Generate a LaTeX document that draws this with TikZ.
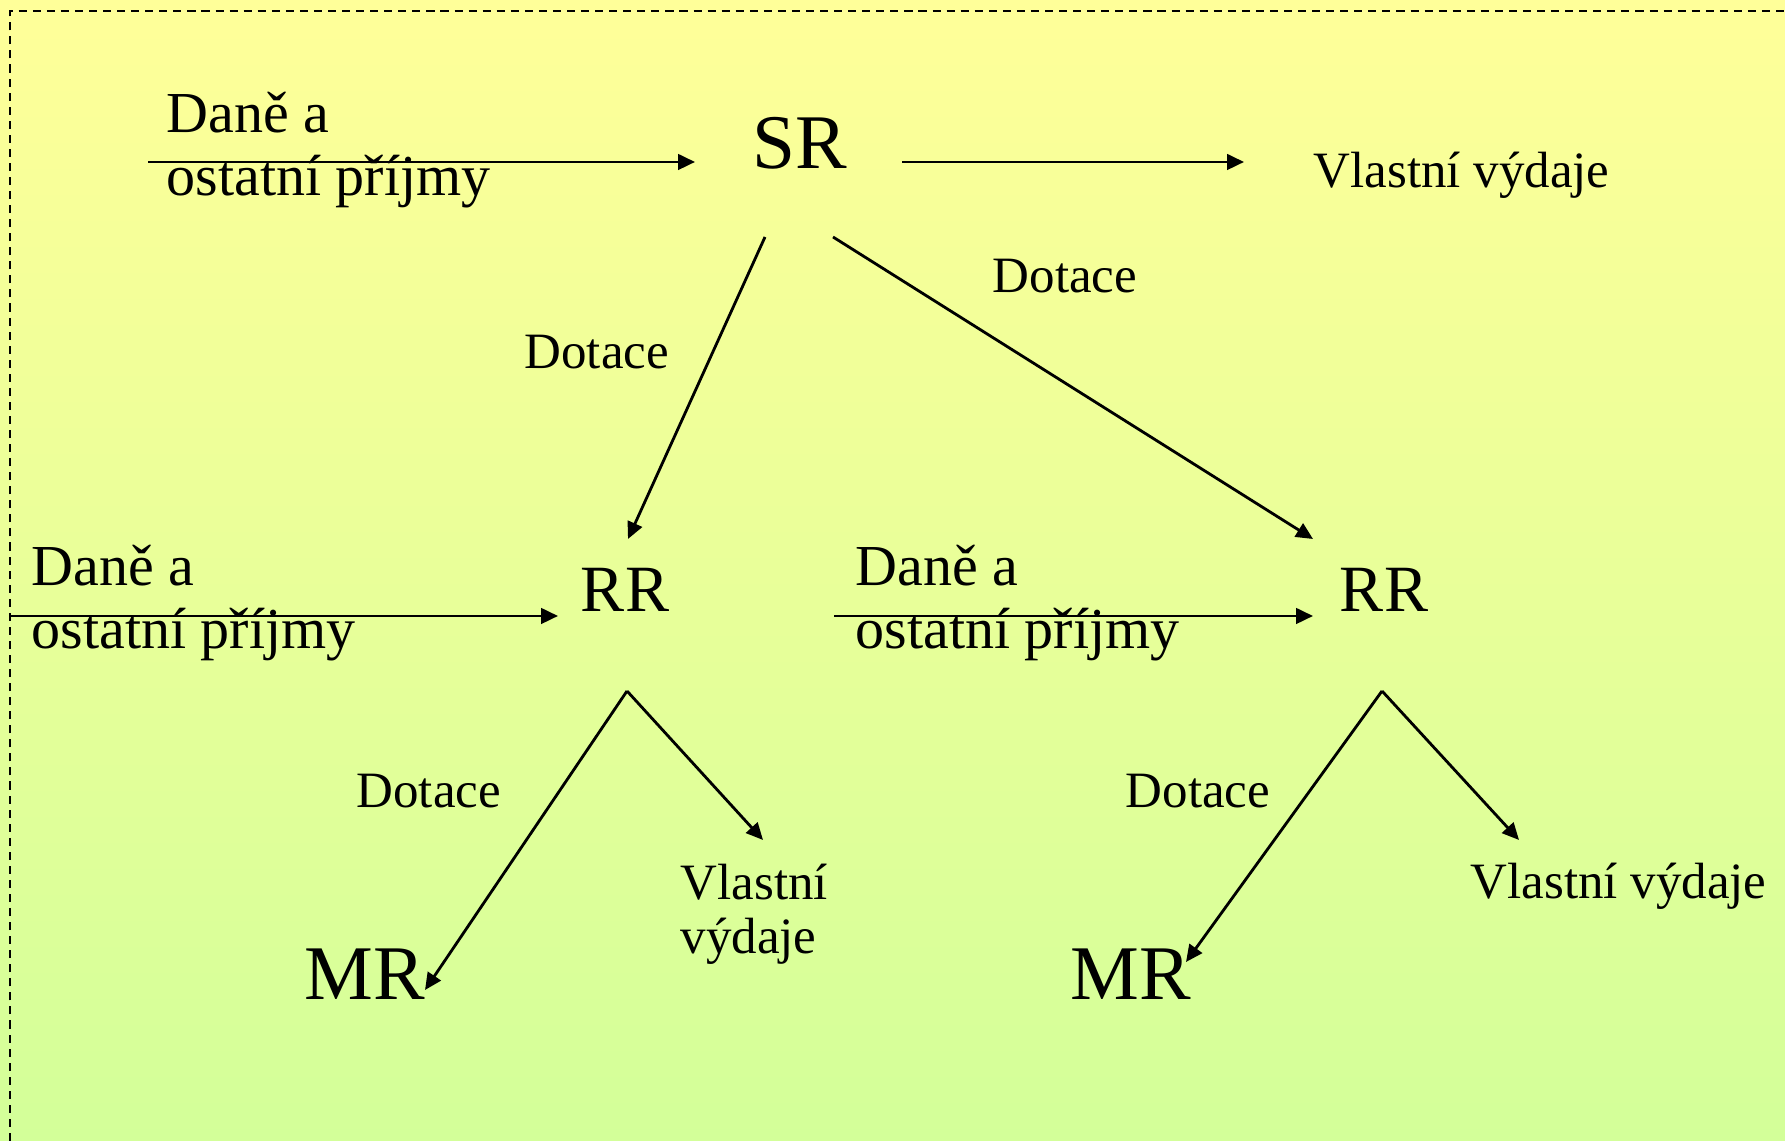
\documentclass[tikz,border=0pt]{standalone}
\usepackage{fontspec}
\setmainfont{Liberation Serif}
\usetikzlibrary{arrows.meta}
\definecolor{bgtop}{RGB}{255,255,153}
\definecolor{bgbottom}{RGB}{211,255,153}

\begin{document}
\begin{tikzpicture}[
	arr/.style={line width=0.8pt, -{Triangle[length=4.8pt,width=4.4pt]}},
	lbl/.style={anchor=base west, inner sep=0pt, align=left, font=\fontsize{14.5}{15.6}\selectfont},
	inc/.style={anchor=base west, inner sep=0pt, align=left, font=\fontsize{16.5}{18.1}\selectfont},
	big/.style={anchor=base, inner sep=0pt, font=\fontsize{22}{26}\selectfont},
	mid/.style={anchor=base, inner sep=0pt, font=\fontsize{18.8}{22}\selectfont}]
	%%%%% START %%%%%
	
	\shade[top color=bgtop, bottom color=bgbottom] (0, 0) rectangle (17.85, 11.41);
	\useasboundingbox (0, 0) rectangle (17.85, 11.41);
	\draw[line width=0.6pt, dash pattern=on 2.3pt off 1.7pt] (0.10, 0) |- (17.85, 11.30);
	
	% state level
	\node[big] (sr) at (8.00, 9.72) {SR};
	\node[inc] (prijmySR) at (1.66, 9.45) {Daně a\\ostatní příjmy};
	\node[lbl] (vydajeSR) at (13.13, 9.53) {Vlastní výdaje};
	\node[lbl] (dotaceA) at (5.24, 7.72) {Dotace};
	\node[lbl] (dotaceB) at (9.92, 8.48) {Dotace};
	
	% regions
	\node[mid] (rrL) at (6.25, 5.29) {RR};
	\node[mid] (rrR) at (13.84, 5.29) {RR};
	\node[inc] (prijmyL) at (0.31, 4.92) {Daně a\\ostatní příjmy};
	\node[inc] (prijmyR) at (8.55, 4.92) {Daně a\\ostatní příjmy};
	
	% municipalities
	\node[big] (mrL) at (3.65, 1.41) {MR};
	\node[big] (mrR) at (11.31, 1.41) {MR};
	\node[lbl] (dotaceC) at (3.56, 3.33) {Dotace};
	\node[lbl] (dotaceD) at (11.25, 3.33) {Dotace};
	\node[lbl] (vydajeL) at (6.80, 1.87) {Vlastní\\výdaje};
	\node[lbl] (vydajeR) at (14.70, 2.42) {Vlastní výdaje};
	
	% arrow ends
	\coordinate (inSR) at (1.48, 9.79);
	\coordinate (srW) at (6.95, 9.79);
	\coordinate (srE) at (9.02, 9.79);
	\coordinate (outSR) at (12.44, 9.79);
	\coordinate (srSW) at (7.65, 9.04);
	\coordinate (srSE) at (8.33, 9.04);
	\coordinate (rrLN) at (6.28, 6.02);
	\coordinate (rrRN) at (13.13, 6.02);
	\coordinate (inL) at (0.10, 5.25);
	\coordinate (rrLW) at (5.58, 5.25);
	\coordinate (inR) at (8.34, 5.25);
	\coordinate (rrRW) at (13.13, 5.25);
	\coordinate (rrLS) at (6.27, 4.50);
	\coordinate (rrRS) at (13.82, 4.50);
	\coordinate (mrLE) at (4.25, 1.51);
	\coordinate (mrRE) at (11.86, 1.79);
	\coordinate (outL) at (7.63, 3.01);
	\coordinate (outR) at (15.19, 3.01);
	
	\draw[arr] (inSR) -- (srW);
	\draw[arr] (srE) -- (outSR);
	\draw[arr] (srSW) -- (rrLN);
	\draw[arr] (srSE) -- (rrRN);
	\draw[arr] (inL) -- (rrLW);
	\draw[arr] (inR) -- (rrRW);
	\draw[arr] (rrLS) -- (mrLE);
	\draw[arr] (rrLS) -- (outL);
	\draw[arr] (rrRS) -- (mrRE);
	\draw[arr] (rrRS) -- (outR);
	
	%%%%% END %%%%%
\end{tikzpicture}
\end{document}
